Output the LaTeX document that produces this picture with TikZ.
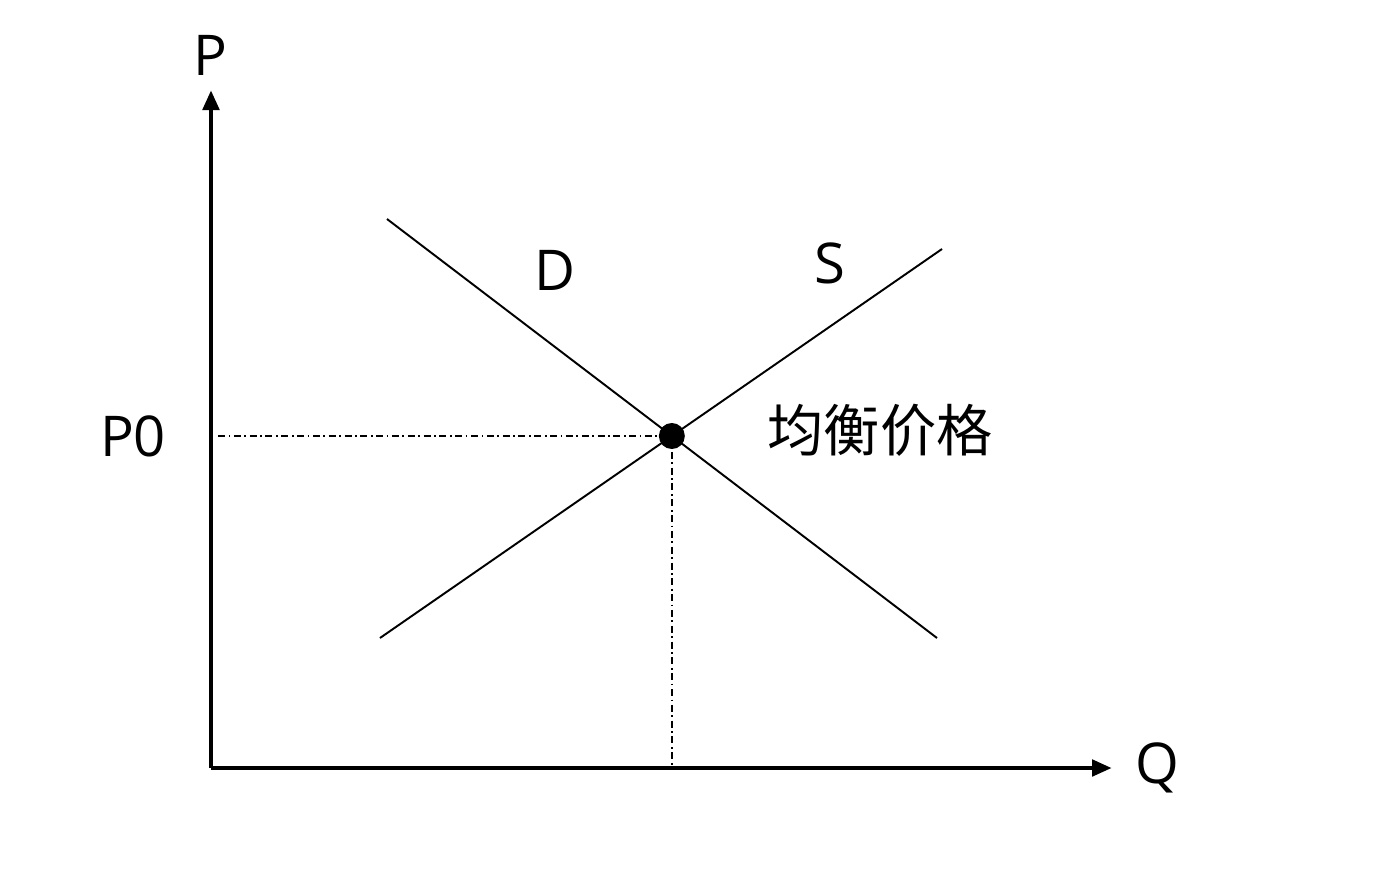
\documentclass[tikz,border=0pt]{standalone}
\usepackage{fontspec}
\setmainfont{Open Sans}
\newfontfamily\cjk{Noto Sans CJK SC}
\usetikzlibrary{arrows.meta,intersections}

\begin{document}
\begin{tikzpicture}[x=0.02cm,y=-0.02cm,>={Triangle[length=4mm,width=3.2mm]},
  font=\fontsize{32}{38}\selectfont,
  axis/.style={line width=2.8pt,->},
  curve/.style={line width=1.1pt},
  guide/.style={line width=0.9pt,dash pattern=on 4pt off 2pt on 1pt off 2pt}]
\useasboundingbox (0,0) rectangle (1374,880);
% axes
\coordinate (origin) at (211,768);
\coordinate (ptop) at (211,90);
\coordinate (qend) at (1112,768);
\draw[axis] (origin) -- (ptop);
\draw[axis] (origin) -- (qend);
\node (plabel) at (210,55) {P};
\node (qlabel) at (1157,768) {Q};
% demand and supply
\coordinate (d1) at (387,219);
\coordinate (d2) at (937,638);
\coordinate (s1) at (380,638);
\coordinate (s2) at (942,249);
\draw[curve,name path=dem] (d1) -- (d2);
\draw[curve,name path=sup] (s1) -- (s2);
\path[name intersections={of=dem and sup,by=eq}];
\node (dlabel) at (555,270) {D};
\node (slabel) at (830,263) {S};
% equilibrium
\coordinate (pzero) at (218,0 |- eq);
\coordinate (qzero) at (eq |- origin);
\draw[guide] (pzero) -- (eq);
\draw[guide] (eq) -- (qzero);
\fill (eq) circle (0.26cm);
\node (p0label) at (133,436) {P0};
\node (eqlabel) at (880,430) {\cjk 均衡价格};
\end{tikzpicture}
\end{document}
